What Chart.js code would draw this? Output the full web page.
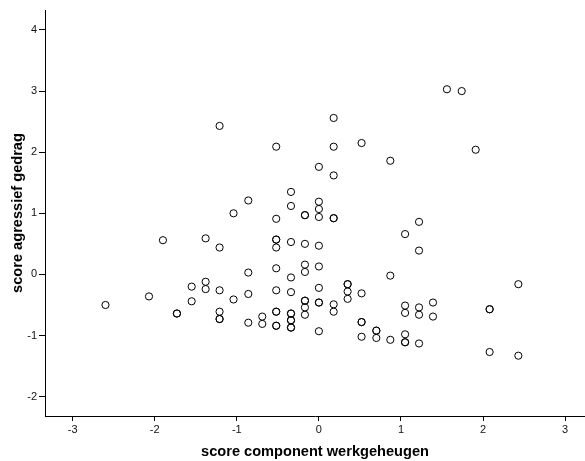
<!DOCTYPE html>
<html>
<head>
<meta charset="utf-8">
<script src="https://cdn.jsdelivr.net/npm/chart.js@4"></script>
<style>
  html, body { margin: 0; padding: 0; background: #fff; }
  #c { display: block; }
</style>
</head>
<body>
<canvas id="c" width="585" height="461"></canvas>
<script>
// Working-memory component score (x) and aggressive-behaviour score (y) per respondent
const werkgeheugen = [
  -2.60,
  -2.07,
  -1.90,
  -1.73, -1.73,
  -1.55, -1.55,
  -1.38, -1.38, -1.38,
  -1.21, -1.21, -1.21, -1.21, -1.21, -1.21,
  -1.04, -1.04,
  -0.86, -0.86, -0.86, -0.86,
  -0.69, -0.69,
  -0.52, -0.52, -0.52, -0.52, -0.52, -0.52, -0.52, -0.52, -0.52, -0.52, -0.52,
  -0.34, -0.34, -0.34, -0.34, -0.34, -0.34, -0.34, -0.34, -0.34, -0.34, -0.34,
  -0.17, -0.17, -0.17, -0.17, -0.17, -0.17, -0.17, -0.17, -0.17,
  0.00, 0.00, 0.00, 0.00, 0.00, 0.00, 0.00, 0.00, 0.00, 0.00,
  0.18, 0.18, 0.18, 0.18, 0.18, 0.18, 0.18,
  0.35, 0.35, 0.35, 0.35,
  0.52, 0.52, 0.52, 0.52, 0.52,
  0.70, 0.70, 0.70,
  0.87, 0.87, 0.87,
  1.05, 1.05, 1.05, 1.05, 1.05, 1.05,
  1.22, 1.22, 1.22, 1.22, 1.22,
  1.39, 1.39,
  1.56,
  1.74,
  1.91,
  2.08, 2.08, 2.08,
  2.43, 2.43
];
const agressief = [
  -0.50,
  -0.36,
  0.56,
  -0.64, -0.64,
  -0.20, -0.44,
  0.59, -0.12, -0.24,
  2.43, 0.44, -0.26, -0.61, -0.73, -0.73,
  1.00, -0.41,
  1.21, 0.03, -0.32, -0.79,
  -0.69, -0.81,
  2.09, 0.91, 0.57, 0.57, 0.44, 0.10, -0.26, -0.61, -0.61, -0.84, -0.84,
  1.35, 1.12, 0.53, -0.05, -0.29, -0.64, -0.64, -0.75, -0.75, -0.87, -0.87,
  0.97, 0.97, 0.50, 0.16, 0.04, -0.43, -0.43, -0.54, -0.66,
  1.76, 1.19, 1.07, 0.94, 0.47, 0.13, -0.22, -0.46, -0.46, -0.93,
  2.56, 2.09, 1.62, 0.92, 0.92, -0.49, -0.61,
  -0.16, -0.16, -0.28, -0.40,
  2.15, -0.31, -0.78, -0.78, -1.02,
  -0.92, -0.92, -1.04,
  1.86, -0.02, -1.07,
  0.66, -0.51, -0.63, -0.98, -1.11, -1.11,
  0.86, 0.39, -0.54, -0.66, -1.13,
  -0.46, -0.69,
  3.03,
  3.00,
  2.04,
  -0.57, -0.57, -1.27,
  -0.16, -1.33
];

const xTicks = [-3, -2, -1, 0, 1, 2, 3];
const yTicks = [-2, -1, 0, 1, 2, 3, 4];

const xTitle = 'score component werkgeheugen';
const yTitle = 'score agressief gedrag';

const points = werkgeheugen.map((x, i) => ({ x: x, y: agressief[i] }));

const tickFont = { family: '"Liberation Sans", Arial, sans-serif', size: 11 };
const titleFont = { family: '"Liberation Sans", Arial, sans-serif', size: 14.6, weight: 'bold' };

new Chart(document.getElementById('c'), {
  type: 'scatter',
  data: {
    datasets: [{
      data: points,
      pointStyle: 'circle',
      pointRadius: 3.6,
      pointHoverRadius: 3.6,
      borderWidth: 1,
      borderColor: '#000',
      backgroundColor: 'rgba(0,0,0,0)'
    }]
  },
  options: {
    responsive: false,
    animation: false,
    events: [],
    layout: { autoPadding: false, padding: { top: 10, right: 0, left: 0, bottom: 0 } },
    plugins: {
      legend: { display: false },
      tooltip: { enabled: false }
    },
    scales: {
      x: {
        type: 'linear',
        min: -3.337,
        max: 3.242,
        afterBuildTicks: s => { s.ticks = xTicks.map(v => ({ value: v })); },
        afterFit: s => { s.height = 45; s.paddingLeft = 0; s.paddingRight = 0; },
        border: { display: true, color: '#000', width: 1 },
        grid: { display: true, drawOnChartArea: false, drawTicks: true, tickLength: 5, color: '#000' },
        ticks: { color: '#111', font: tickFont, padding: 2, maxRotation: 0 },
        title: { display: true, text: xTitle, color: '#000', font: titleFont, padding: { top: 0, bottom: 0 } }
      },
      y: {
        type: 'linear',
        min: -2.317,
        max: 4.327,
        afterBuildTicks: s => { s.ticks = yTicks.map(v => ({ value: v })); },
        afterFit: s => { s.width = 45; s.paddingTop = 0; s.paddingBottom = 0; },
        border: { display: true, color: '#000', width: 1 },
        grid: { display: true, drawOnChartArea: false, drawTicks: true, tickLength: 6, color: '#000' },
        ticks: { color: '#111', font: tickFont, padding: 2 },
        title: { display: true, text: yTitle, color: '#000', font: titleFont, padding: { top: 9, bottom: 0 } }
      }
    }
  }
});
</script>
</body>
</html>
